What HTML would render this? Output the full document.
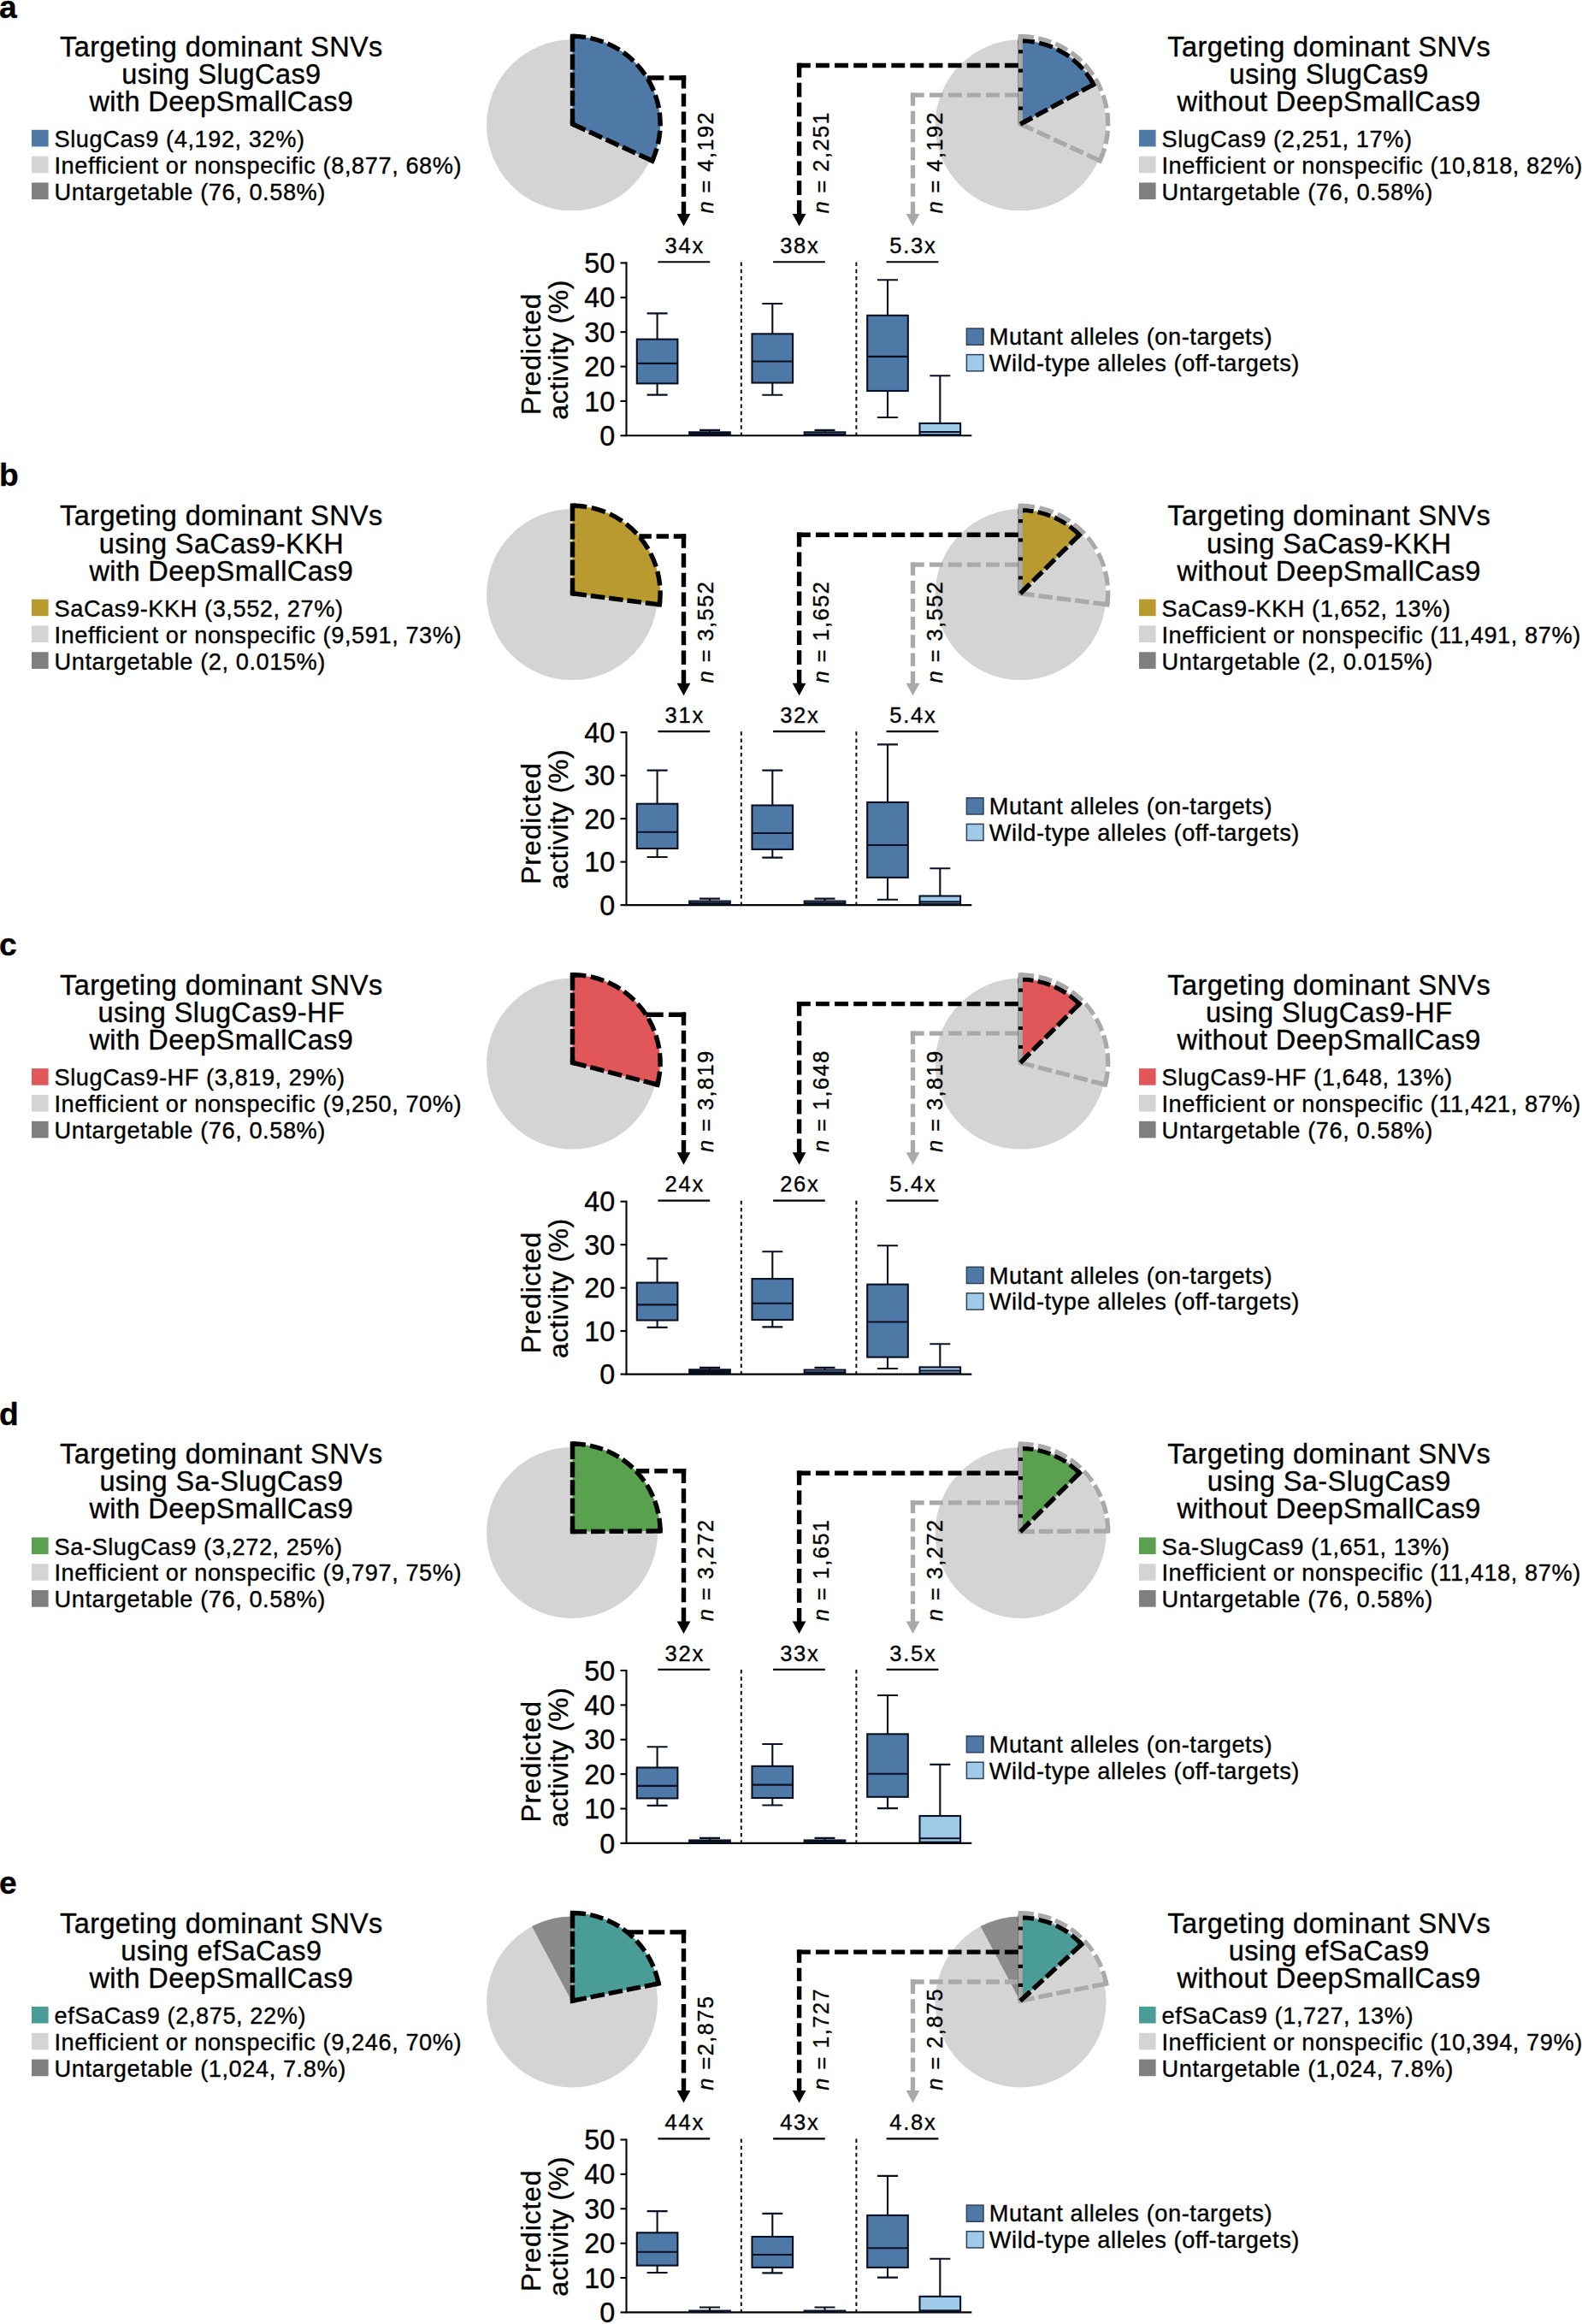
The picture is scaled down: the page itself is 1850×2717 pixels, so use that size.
<!DOCTYPE html>
<html lang="en">
<head>
<meta charset="utf-8">
<title>Targeting dominant SNVs with small Cas9 variants</title>
<style>
html,body{margin:0;padding:0;background:#fff;}
body{width:1850px;height:2717px;overflow:hidden;}
svg{display:block;font-family:"Liberation Sans", Arial, Helvetica, sans-serif;}
svg text{white-space:pre;stroke:#000;stroke-width:0.35px;stroke-linejoin:round;}
</style>
</head>
<body>
<svg width="1850" height="2717" viewBox="0 0 1850 2717" font-family='"Liberation Sans", Arial, Helvetica, sans-serif' shape-rendering="geometricPrecision">
<rect width="1850" height="2717" fill="#fff"/>
<g id="panel-a">
<text x="-1" y="21.2" font-size="37.2" font-weight="bold">a</text>
<text x="258.9" y="65.6" font-size="32.5" text-anchor="middle" letter-spacing="0.4">Targeting dominant SNVs</text>
<text x="258.9" y="97.7" font-size="32.5" text-anchor="middle" letter-spacing="0.4">using SlugCas9</text>
<text x="258.9" y="129.8" font-size="32.5" text-anchor="middle" letter-spacing="0.4">with DeepSmallCas9</text>
<text x="1554.2" y="65.6" font-size="32.5" text-anchor="middle" letter-spacing="0.4">Targeting dominant SNVs</text>
<text x="1554.2" y="97.7" font-size="32.5" text-anchor="middle" letter-spacing="0.4">using SlugCas9</text>
<text x="1554.2" y="129.8" font-size="32.5" text-anchor="middle" letter-spacing="0.4">without DeepSmallCas9</text>
<rect x="37" y="151.8" width="19.6" height="19.6" fill="#4e79a7"/>
<text x="63.5" y="172" font-size="27.2" letter-spacing="0.57">SlugCas9 (4,192, 32%)</text>
<rect x="37" y="182.65" width="19.6" height="19.6" fill="#d4d4d4"/>
<text x="63.5" y="202.85" font-size="27.2" letter-spacing="0.57">Inefficient or nonspecific (8,877, 68%)</text>
<rect x="37" y="213.5" width="19.6" height="19.6" fill="#7f7f7f"/>
<text x="63.5" y="233.7" font-size="27.2" letter-spacing="0.57">Untargetable (76, 0.58%)</text>
<rect x="1332" y="151.8" width="19.6" height="19.6" fill="#4e79a7"/>
<text x="1358.5" y="172" font-size="27.2" letter-spacing="0.57">SlugCas9 (2,251, 17%)</text>
<rect x="1332" y="182.65" width="19.6" height="19.6" fill="#d4d4d4"/>
<text x="1358.5" y="202.85" font-size="27.2" letter-spacing="0.57">Inefficient or nonspecific (10,818, 82%)</text>
<rect x="1332" y="213.5" width="19.6" height="19.6" fill="#7f7f7f"/>
<text x="1358.5" y="233.7" font-size="27.2" letter-spacing="0.57">Untargetable (76, 0.58%)</text>
<circle cx="669" cy="146.3" r="100" fill="#d4d4d4"/>
<path d="M669.5 145 L669.5 42.4 A102.6 102.6 0 0 1 762.64 188.04 Z" fill="#4e79a7"/>
<path d="M669.5 145 L669.5 42.4" fill="none" stroke="#000" stroke-width="5.4" stroke-dasharray="18.06 3.07"/>
<path d="M669.5 42.4 A102.6 102.6 0 0 1 762.64 188.04" fill="none" stroke="#000" stroke-width="5.4" stroke-dasharray="15.7 5.4"/>
<path d="M762.64 188.04 L669.5 145" fill="none" stroke="#000" stroke-width="5.4" stroke-dasharray="16.61 4.89"/>
<path d="M669.5 141 L669.5 145 L673.13 146.68" fill="none" stroke="#000" stroke-width="5.4" stroke-linejoin="miter" stroke-miterlimit="6"/>
<path d="M669.5 46.4 L669.5 42.4 L673.5 42.48" fill="none" stroke="#000" stroke-width="5.4" stroke-linejoin="miter" stroke-miterlimit="6"/>
<path d="M764.24 184.37 L762.64 188.04 L759.01 186.36" fill="none" stroke="#000" stroke-width="5.4" stroke-linejoin="miter" stroke-miterlimit="6"/>
<line x1="802.2" y1="91" x2="756.74" y2="91" stroke="#000" stroke-width="5.4" stroke-dasharray="19.63 6.2"/>
<line x1="799.5" y1="88.3" x2="799.5" y2="251" stroke="#000" stroke-width="5.4" stroke-dasharray="15.11 5.97"/>
<path d="M791.6 250 L807.4 250 L799.5 264.5 Z" fill="#000"/>
<circle cx="1193.6" cy="146.3" r="100" fill="#d4d4d4"/>
<line x1="1064.85" y1="111.2" x2="1190.8" y2="111.2" stroke="#a9a9a9" stroke-width="5.3" stroke-dasharray="15.83 6.2"/>
<line x1="1067.5" y1="108.55" x2="1067.5" y2="251" stroke="#a9a9a9" stroke-width="5.3" stroke-dasharray="15.2 6"/>
<path d="M1059.6 250 L1075.4 250 L1067.5 264.5 Z" fill="#a9a9a9"/>
<path d="M1193.3 145 L1193.3 47.6 A97.4 97.4 0 0 1 1278.98 98.67 Z" fill="#4e79a7"/>
<path d="M1193.3 145 L1193.3 47.6" fill="none" stroke="#000" stroke-width="5.4"/>
<path d="M1193.3 47.6 A97.4 97.4 0 0 1 1278.98 98.67" fill="none" stroke="#000" stroke-width="5.4" stroke-dasharray="16.43 5.65"/>
<path d="M1278.98 98.67 L1193.3 145" fill="none" stroke="#000" stroke-width="5.4" stroke-dasharray="15.77 4.64"/>
<path d="M1193.3 51.6 L1193.3 47.6 L1197.3 47.68" fill="none" stroke="#000" stroke-width="5.4" stroke-linejoin="miter" stroke-miterlimit="6"/>
<path d="M1277 95.2 L1278.98 98.67 L1275.46 100.58" fill="none" stroke="#000" stroke-width="5.4" stroke-linejoin="miter" stroke-miterlimit="6"/>
<path d="M1193.3 145 L1193.3 42.6" fill="none" stroke="#a9a9a9" stroke-width="5.3" stroke-dasharray="16.2 4.2 17.8 4.2 17.9 4.2 18 4.2 30"/>
<path d="M1193.3 42.6 A102.4 102.4 0 0 1 1286.26 187.95" fill="none" stroke="#a9a9a9" stroke-width="5.3" stroke-dasharray="15.67 5.39"/>
<path d="M1286.26 187.95 L1193.3 145" fill="none" stroke="#a9a9a9" stroke-width="5.3" stroke-dasharray="16.58 4.88"/>
<path d="M1193.3 141 L1193.3 145 L1196.93 146.68" fill="none" stroke="#a9a9a9" stroke-width="5.3" stroke-linejoin="miter" stroke-miterlimit="6"/>
<path d="M1193.3 46.6 L1193.3 42.6 L1197.3 42.68" fill="none" stroke="#a9a9a9" stroke-width="5.3" stroke-linejoin="miter" stroke-miterlimit="6"/>
<path d="M1287.86 184.29 L1286.26 187.95 L1282.63 186.27" fill="none" stroke="#a9a9a9" stroke-width="5.3" stroke-linejoin="miter" stroke-miterlimit="6"/>
<path d="M1193.04 145.14 L1206.49 137.87" fill="none" stroke="#000" stroke-width="5.4"/>
<line x1="931.9" y1="76.5" x2="1190.8" y2="76.5" stroke="#000" stroke-width="5.4" stroke-dasharray="15.89 6.2"/>
<line x1="934.6" y1="73.8" x2="934.6" y2="251" stroke="#000" stroke-width="5.4" stroke-dasharray="16.72 6.2"/>
<path d="M926.7 250 L942.5 250 L934.6 264.5 Z" fill="#000"/>
<text transform="translate(834.2 249.6) rotate(-90)" font-size="25.4" letter-spacing="1.46"><tspan font-style="italic">n</tspan> = 4,192</text>
<text transform="translate(969.2 249.6) rotate(-90)" font-size="25.4" letter-spacing="1.46"><tspan font-style="italic">n</tspan> = 2,251</text>
<text transform="translate(1102.2 249.6) rotate(-90)" font-size="25.4" letter-spacing="1.46"><tspan font-style="italic">n</tspan> = 4,192</text>
<path d="M732.5 306.35 V509.3 H1136.3" fill="none" stroke="#000" stroke-width="2.1"/>
<line x1="725.5" y1="509.3" x2="732.5" y2="509.3" stroke="#000" stroke-width="2.1"/>
<text x="719.3" y="520.9" font-size="32.3" text-anchor="end">0</text>
<line x1="725.5" y1="468.92" x2="732.5" y2="468.92" stroke="#000" stroke-width="2.1"/>
<text x="719.3" y="480.52" font-size="32.3" text-anchor="end">10</text>
<line x1="725.5" y1="428.54" x2="732.5" y2="428.54" stroke="#000" stroke-width="2.1"/>
<text x="719.3" y="440.14" font-size="32.3" text-anchor="end">20</text>
<line x1="725.5" y1="388.16" x2="732.5" y2="388.16" stroke="#000" stroke-width="2.1"/>
<text x="719.3" y="399.76" font-size="32.3" text-anchor="end">30</text>
<line x1="725.5" y1="347.78" x2="732.5" y2="347.78" stroke="#000" stroke-width="2.1"/>
<text x="719.3" y="359.38" font-size="32.3" text-anchor="end">40</text>
<line x1="725.5" y1="307.4" x2="732.5" y2="307.4" stroke="#000" stroke-width="2.1"/>
<text x="719.3" y="319" font-size="32.3" text-anchor="end">50</text>
<text transform="translate(631.5 413.8) rotate(-90)" font-size="32" text-anchor="middle" letter-spacing="0.8">Predicted</text>
<text transform="translate(664.4 408.8) rotate(-90)" font-size="32" text-anchor="middle" letter-spacing="0.6">activity (%)</text>
<line x1="866.8" y1="306.4" x2="866.8" y2="509.3" stroke="#000" stroke-width="1.9" stroke-dasharray="4.5 3.8"/>
<line x1="1001.4" y1="306.4" x2="1001.4" y2="509.3" stroke="#000" stroke-width="1.9" stroke-dasharray="4.5 3.8"/>
<text x="800.7" y="296" font-size="25.5" text-anchor="middle" letter-spacing="1.8">34x</text>
<line x1="769.4" y1="306.3" x2="830.2" y2="306.3" stroke="#000" stroke-width="2.1"/>
<text x="935.4" y="296" font-size="25.5" text-anchor="middle" letter-spacing="1.8">38x</text>
<line x1="904.1" y1="306.3" x2="964.9" y2="306.3" stroke="#000" stroke-width="2.1"/>
<text x="1067.9" y="296" font-size="25.5" text-anchor="middle" letter-spacing="1.8">5.3x</text>
<line x1="1036.6" y1="306.3" x2="1097.4" y2="306.3" stroke="#000" stroke-width="2.1"/>
<path d="M768.6 366.35 V396.64 M768.6 448.33 V461.65 M756.6 366.35 H780.6 M756.6 461.65 H780.6" fill="none" stroke="#0a1024" stroke-width="2.1"/>
<rect x="744.8" y="396.64" width="47.6" height="51.69" fill="#4e79a7" stroke="#0a1024" stroke-width="2.1"/>
<line x1="744.8" y1="424.91" x2="792.4" y2="424.91" stroke="#0a1024" stroke-width="2.1"/>
<path d="M830 502.92 V505.3 M818 502.92 H842" fill="none" stroke="#0a1024" stroke-width="2.1"/>
<rect x="806.2" y="505.3" width="47.6" height="3.19" fill="#0a1024" stroke="#0a1024" stroke-width="2.1"/>
<line x1="806.2" y1="507.48" x2="853.8" y2="507.48" stroke="#0a1024" stroke-width="2.1"/>
<path d="M903.3 355.05 V390.34 M903.3 447.52 V461.81 M891.3 355.05 H915.3 M891.3 461.81 H915.3" fill="none" stroke="#0a1024" stroke-width="2.1"/>
<rect x="879.5" y="390.34" width="47.6" height="57.18" fill="#4e79a7" stroke="#0a1024" stroke-width="2.1"/>
<line x1="879.5" y1="422.48" x2="927.1" y2="422.48" stroke="#0a1024" stroke-width="2.1"/>
<path d="M964.5 502.92 V505.3 M952.5 502.92 H976.5" fill="none" stroke="#0a1024" stroke-width="2.1"/>
<rect x="940.7" y="505.3" width="47.6" height="3.19" fill="#a0cbe8" stroke="#0a1024" stroke-width="2.1"/>
<line x1="940.7" y1="507.48" x2="988.3" y2="507.48" stroke="#0a1024" stroke-width="2.1"/>
<path d="M1038 327.19 V368.78 M1038 457.01 V488.02 M1026 327.19 H1050 M1026 488.02 H1050" fill="none" stroke="#0a1024" stroke-width="2.1"/>
<rect x="1014.2" y="368.78" width="47.6" height="88.23" fill="#4e79a7" stroke="#0a1024" stroke-width="2.1"/>
<line x1="1014.2" y1="416.83" x2="1061.8" y2="416.83" stroke="#0a1024" stroke-width="2.1"/>
<path d="M1099.3 439.24 V494.92 M1087.3 439.24 H1111.3" fill="none" stroke="#0a1024" stroke-width="2.1"/>
<rect x="1075.5" y="494.92" width="47.6" height="13.37" fill="#a0cbe8" stroke="#0a1024" stroke-width="2.1"/>
<line x1="1075.5" y1="505.02" x2="1123.1" y2="505.02" stroke="#0a1024" stroke-width="2.1"/>
<rect x="1130.4" y="384" width="19.6" height="19.2" fill="#4e79a7" stroke="#2f4058" stroke-width="1.5"/>
<text x="1156.8" y="403.2" font-size="27.2" letter-spacing="0.57">Mutant alleles (on-targets)</text>
<rect x="1130.4" y="414.6" width="19.6" height="19.2" fill="#a0cbe8" stroke="#2f4058" stroke-width="1.5"/>
<text x="1156.8" y="434" font-size="27.2" letter-spacing="0.57">Wild-type alleles (off-targets)</text>
</g>
<g id="panel-b">
<text x="-1" y="568" font-size="37.2" font-weight="bold">b</text>
<text x="258.9" y="614.4" font-size="32.5" text-anchor="middle" letter-spacing="0.4">Targeting dominant SNVs</text>
<text x="258.9" y="646.5" font-size="32.5" text-anchor="middle" letter-spacing="0.4">using SaCas9-KKH</text>
<text x="258.9" y="678.6" font-size="32.5" text-anchor="middle" letter-spacing="0.4">with DeepSmallCas9</text>
<text x="1554.2" y="614.4" font-size="32.5" text-anchor="middle" letter-spacing="0.4">Targeting dominant SNVs</text>
<text x="1554.2" y="646.5" font-size="32.5" text-anchor="middle" letter-spacing="0.4">using SaCas9-KKH</text>
<text x="1554.2" y="678.6" font-size="32.5" text-anchor="middle" letter-spacing="0.4">without DeepSmallCas9</text>
<rect x="37" y="700.6" width="19.6" height="19.6" fill="#b99a2e"/>
<text x="63.5" y="720.8" font-size="27.2" letter-spacing="0.57">SaCas9-KKH (3,552, 27%)</text>
<rect x="37" y="731.45" width="19.6" height="19.6" fill="#d4d4d4"/>
<text x="63.5" y="751.65" font-size="27.2" letter-spacing="0.57">Inefficient or nonspecific (9,591, 73%)</text>
<rect x="37" y="762.3" width="19.6" height="19.6" fill="#7f7f7f"/>
<text x="63.5" y="782.5" font-size="27.2" letter-spacing="0.57">Untargetable (2, 0.015%)</text>
<rect x="1332" y="700.6" width="19.6" height="19.6" fill="#b99a2e"/>
<text x="1358.5" y="720.8" font-size="27.2" letter-spacing="0.57">SaCas9-KKH (1,652, 13%)</text>
<rect x="1332" y="731.45" width="19.6" height="19.6" fill="#d4d4d4"/>
<text x="1358.5" y="751.65" font-size="27.2" letter-spacing="0.57">Inefficient or nonspecific (11,491, 87%)</text>
<rect x="1332" y="762.3" width="19.6" height="19.6" fill="#7f7f7f"/>
<text x="1358.5" y="782.5" font-size="27.2" letter-spacing="0.57">Untargetable (2, 0.015%)</text>
<circle cx="669" cy="695.1" r="100" fill="#d4d4d4"/>
<path d="M669.5 693.8 L669.5 591.2 A102.6 102.6 0 0 1 771.27 706.84 Z" fill="#b99a2e"/>
<path d="M669.5 693.8 L669.5 591.2" fill="none" stroke="#000" stroke-width="5.4" stroke-dasharray="18.06 3.07"/>
<path d="M669.5 591.2 A102.6 102.6 0 0 1 771.27 706.84" fill="none" stroke="#000" stroke-width="5.4" stroke-dasharray="16.74 5.76"/>
<path d="M771.27 706.84 L669.5 693.8" fill="none" stroke="#000" stroke-width="5.4" stroke-dasharray="16.61 4.89"/>
<path d="M669.5 689.8 L669.5 693.8 L673.47 694.31" fill="none" stroke="#000" stroke-width="5.4" stroke-linejoin="miter" stroke-miterlimit="6"/>
<path d="M669.5 595.2 L669.5 591.2 L673.5 591.28" fill="none" stroke="#000" stroke-width="5.4" stroke-linejoin="miter" stroke-miterlimit="6"/>
<path d="M771.7 702.86 L771.27 706.84 L767.3 706.33" fill="none" stroke="#000" stroke-width="5.4" stroke-linejoin="miter" stroke-miterlimit="6"/>
<line x1="802.2" y1="627" x2="747.38" y2="627" stroke="#000" stroke-width="5.4" stroke-dasharray="14.47 5.71"/>
<line x1="799.5" y1="624.3" x2="799.5" y2="799.8" stroke="#000" stroke-width="5.4" stroke-dasharray="16.51 6.2"/>
<path d="M791.6 798.8 L807.4 798.8 L799.5 813.3 Z" fill="#000"/>
<circle cx="1193.6" cy="695.1" r="100" fill="#d4d4d4"/>
<line x1="1064.85" y1="660.2" x2="1190.8" y2="660.2" stroke="#a9a9a9" stroke-width="5.3" stroke-dasharray="15.83 6.2"/>
<line x1="1067.5" y1="657.55" x2="1067.5" y2="799.8" stroke="#a9a9a9" stroke-width="5.3" stroke-dasharray="15.18 6"/>
<path d="M1059.6 798.8 L1075.4 798.8 L1067.5 813.3 Z" fill="#a9a9a9"/>
<path d="M1193.3 693.8 L1193.3 596.4 A97.4 97.4 0 0 1 1262.41 625.17 Z" fill="#b99a2e"/>
<path d="M1193.3 693.8 L1193.3 596.4" fill="none" stroke="#000" stroke-width="5.4"/>
<path d="M1193.3 596.4 A97.4 97.4 0 0 1 1262.41 625.17" fill="none" stroke="#000" stroke-width="5.4" stroke-dasharray="15.27 5.25"/>
<path d="M1262.41 625.17 L1193.3 693.8" fill="none" stroke="#000" stroke-width="5.4" stroke-dasharray="15.77 4.64"/>
<path d="M1193.3 600.4 L1193.3 596.4 L1197.3 596.48" fill="none" stroke="#000" stroke-width="5.4" stroke-linejoin="miter" stroke-miterlimit="6"/>
<path d="M1259.54 622.39 L1262.41 625.17 L1259.57 627.99" fill="none" stroke="#000" stroke-width="5.4" stroke-linejoin="miter" stroke-miterlimit="6"/>
<path d="M1193.3 693.8 L1193.3 591.4" fill="none" stroke="#a9a9a9" stroke-width="5.3" stroke-dasharray="16.2 4.2 17.8 4.2 17.9 4.2 18 4.2 30"/>
<path d="M1193.3 591.4 A102.4 102.4 0 0 1 1294.87 706.81" fill="none" stroke="#a9a9a9" stroke-width="5.3" stroke-dasharray="16.71 5.74"/>
<path d="M1294.87 706.81 L1193.3 693.8" fill="none" stroke="#a9a9a9" stroke-width="5.3" stroke-dasharray="16.58 4.88"/>
<path d="M1193.3 689.8 L1193.3 693.8 L1197.27 694.31" fill="none" stroke="#a9a9a9" stroke-width="5.3" stroke-linejoin="miter" stroke-miterlimit="6"/>
<path d="M1193.3 595.4 L1193.3 591.4 L1197.3 591.48" fill="none" stroke="#a9a9a9" stroke-width="5.3" stroke-linejoin="miter" stroke-miterlimit="6"/>
<path d="M1295.3 702.83 L1294.87 706.81 L1290.9 706.3" fill="none" stroke="#a9a9a9" stroke-width="5.3" stroke-linejoin="miter" stroke-miterlimit="6"/>
<path d="M1193.09 694.01 L1203.94 683.23" fill="none" stroke="#000" stroke-width="5.4"/>
<line x1="931.9" y1="625.3" x2="1190.8" y2="625.3" stroke="#000" stroke-width="5.4" stroke-dasharray="15.89 6.2"/>
<line x1="934.6" y1="622.6" x2="934.6" y2="799.8" stroke="#000" stroke-width="5.4" stroke-dasharray="16.73 6.2"/>
<path d="M926.7 798.8 L942.5 798.8 L934.6 813.3 Z" fill="#000"/>
<text transform="translate(834.2 798.4) rotate(-90)" font-size="25.4" letter-spacing="1.46"><tspan font-style="italic">n</tspan> = 3,552</text>
<text transform="translate(969.2 798.4) rotate(-90)" font-size="25.4" letter-spacing="1.46"><tspan font-style="italic">n</tspan> = 1,652</text>
<text transform="translate(1102.2 798.4) rotate(-90)" font-size="25.4" letter-spacing="1.46"><tspan font-style="italic">n</tspan> = 3,552</text>
<path d="M732.5 855.15 V1058.1 H1136.3" fill="none" stroke="#000" stroke-width="2.1"/>
<line x1="725.5" y1="1058.1" x2="732.5" y2="1058.1" stroke="#000" stroke-width="2.1"/>
<text x="719.3" y="1069.7" font-size="32.3" text-anchor="end">0</text>
<line x1="725.5" y1="1007.62" x2="732.5" y2="1007.62" stroke="#000" stroke-width="2.1"/>
<text x="719.3" y="1019.22" font-size="32.3" text-anchor="end">10</text>
<line x1="725.5" y1="957.15" x2="732.5" y2="957.15" stroke="#000" stroke-width="2.1"/>
<text x="719.3" y="968.75" font-size="32.3" text-anchor="end">20</text>
<line x1="725.5" y1="906.67" x2="732.5" y2="906.67" stroke="#000" stroke-width="2.1"/>
<text x="719.3" y="918.27" font-size="32.3" text-anchor="end">30</text>
<line x1="725.5" y1="856.2" x2="732.5" y2="856.2" stroke="#000" stroke-width="2.1"/>
<text x="719.3" y="867.8" font-size="32.3" text-anchor="end">40</text>
<text transform="translate(631.5 962.6) rotate(-90)" font-size="32" text-anchor="middle" letter-spacing="0.8">Predicted</text>
<text transform="translate(664.4 957.6) rotate(-90)" font-size="32" text-anchor="middle" letter-spacing="0.6">activity (%)</text>
<line x1="866.8" y1="855.2" x2="866.8" y2="1058.1" stroke="#000" stroke-width="1.9" stroke-dasharray="4.5 3.8"/>
<line x1="1001.4" y1="855.2" x2="1001.4" y2="1058.1" stroke="#000" stroke-width="1.9" stroke-dasharray="4.5 3.8"/>
<text x="800.7" y="844.8" font-size="25.5" text-anchor="middle" letter-spacing="1.8">31x</text>
<line x1="769.4" y1="855.1" x2="830.2" y2="855.1" stroke="#000" stroke-width="2.1"/>
<text x="935.4" y="844.8" font-size="25.5" text-anchor="middle" letter-spacing="1.8">32x</text>
<line x1="904.1" y1="855.1" x2="964.9" y2="855.1" stroke="#000" stroke-width="2.1"/>
<text x="1067.9" y="844.8" font-size="25.5" text-anchor="middle" letter-spacing="1.8">5.4x</text>
<line x1="1036.6" y1="855.1" x2="1097.4" y2="855.1" stroke="#000" stroke-width="2.1"/>
<path d="M768.6 900.62 V939.74 M768.6 991.98 V1002.07 M756.6 900.62 H780.6 M756.6 1002.07 H780.6" fill="none" stroke="#0a1024" stroke-width="2.1"/>
<rect x="744.8" y="939.74" width="47.6" height="52.24" fill="#4e79a7" stroke="#0a1024" stroke-width="2.1"/>
<line x1="744.8" y1="972.8" x2="792.4" y2="972.8" stroke="#0a1024" stroke-width="2.1"/>
<path d="M830 1050.58 V1053.56 M818 1050.58 H842" fill="none" stroke="#0a1024" stroke-width="2.1"/>
<rect x="806.2" y="1053.56" width="47.6" height="3.53" fill="#a0cbe8" stroke="#0a1024" stroke-width="2.1"/>
<line x1="806.2" y1="1055.83" x2="853.8" y2="1055.83" stroke="#0a1024" stroke-width="2.1"/>
<path d="M903.3 900.62 V941.5 M903.3 992.99 V1002.58 M891.3 900.62 H915.3 M891.3 1002.58 H915.3" fill="none" stroke="#0a1024" stroke-width="2.1"/>
<rect x="879.5" y="941.5" width="47.6" height="51.48" fill="#4e79a7" stroke="#0a1024" stroke-width="2.1"/>
<line x1="879.5" y1="974.06" x2="927.1" y2="974.06" stroke="#0a1024" stroke-width="2.1"/>
<path d="M964.5 1050.58 V1053.56 M952.5 1050.58 H976.5" fill="none" stroke="#0a1024" stroke-width="2.1"/>
<rect x="940.7" y="1053.56" width="47.6" height="3.53" fill="#a0cbe8" stroke="#0a1024" stroke-width="2.1"/>
<line x1="940.7" y1="1055.83" x2="988.3" y2="1055.83" stroke="#0a1024" stroke-width="2.1"/>
<path d="M1038 870.33 V937.97 M1038 1025.9 V1051.69 M1026 870.33 H1050 M1026 1051.69 H1050" fill="none" stroke="#0a1024" stroke-width="2.1"/>
<rect x="1014.2" y="937.97" width="47.6" height="87.93" fill="#4e79a7" stroke="#0a1024" stroke-width="2.1"/>
<line x1="1014.2" y1="987.94" x2="1061.8" y2="987.94" stroke="#0a1024" stroke-width="2.1"/>
<path d="M1099.3 1015.2 V1047.5 M1087.3 1015.2 H1111.3" fill="none" stroke="#0a1024" stroke-width="2.1"/>
<rect x="1075.5" y="1047.5" width="47.6" height="9.59" fill="#a0cbe8" stroke="#0a1024" stroke-width="2.1"/>
<line x1="1075.5" y1="1054.36" x2="1123.1" y2="1054.36" stroke="#0a1024" stroke-width="2.1"/>
<rect x="1130.4" y="932.8" width="19.6" height="19.2" fill="#4e79a7" stroke="#2f4058" stroke-width="1.5"/>
<text x="1156.8" y="952" font-size="27.2" letter-spacing="0.57">Mutant alleles (on-targets)</text>
<rect x="1130.4" y="963.4" width="19.6" height="19.2" fill="#a0cbe8" stroke="#2f4058" stroke-width="1.5"/>
<text x="1156.8" y="982.8" font-size="27.2" letter-spacing="0.57">Wild-type alleles (off-targets)</text>
</g>
<g id="panel-c">
<text x="-1" y="1117.3" font-size="37.2" font-weight="bold">c</text>
<text x="258.9" y="1162.9" font-size="32.5" text-anchor="middle" letter-spacing="0.4">Targeting dominant SNVs</text>
<text x="258.9" y="1195" font-size="32.5" text-anchor="middle" letter-spacing="0.4">using SlugCas9-HF</text>
<text x="258.9" y="1227.1" font-size="32.5" text-anchor="middle" letter-spacing="0.4">with DeepSmallCas9</text>
<text x="1554.2" y="1162.9" font-size="32.5" text-anchor="middle" letter-spacing="0.4">Targeting dominant SNVs</text>
<text x="1554.2" y="1195" font-size="32.5" text-anchor="middle" letter-spacing="0.4">using SlugCas9-HF</text>
<text x="1554.2" y="1227.1" font-size="32.5" text-anchor="middle" letter-spacing="0.4">without DeepSmallCas9</text>
<rect x="37" y="1249.1" width="19.6" height="19.6" fill="#e15759"/>
<text x="63.5" y="1269.3" font-size="27.2" letter-spacing="0.57">SlugCas9-HF (3,819, 29%)</text>
<rect x="37" y="1279.95" width="19.6" height="19.6" fill="#d4d4d4"/>
<text x="63.5" y="1300.15" font-size="27.2" letter-spacing="0.57">Inefficient or nonspecific (9,250, 70%)</text>
<rect x="37" y="1310.8" width="19.6" height="19.6" fill="#7f7f7f"/>
<text x="63.5" y="1331" font-size="27.2" letter-spacing="0.57">Untargetable (76, 0.58%)</text>
<rect x="1332" y="1249.1" width="19.6" height="19.6" fill="#e15759"/>
<text x="1358.5" y="1269.3" font-size="27.2" letter-spacing="0.57">SlugCas9-HF (1,648, 13%)</text>
<rect x="1332" y="1279.95" width="19.6" height="19.6" fill="#d4d4d4"/>
<text x="1358.5" y="1300.15" font-size="27.2" letter-spacing="0.57">Inefficient or nonspecific (11,421, 87%)</text>
<rect x="1332" y="1310.8" width="19.6" height="19.6" fill="#7f7f7f"/>
<text x="1358.5" y="1331" font-size="27.2" letter-spacing="0.57">Untargetable (76, 0.58%)</text>
<circle cx="669" cy="1243.6" r="100" fill="#d4d4d4"/>
<path d="M669.5 1242.3 L669.5 1139.7 A102.6 102.6 0 0 1 768.79 1268.16 Z" fill="#e15759"/>
<path d="M669.5 1242.3 L669.5 1139.7" fill="none" stroke="#000" stroke-width="5.4" stroke-dasharray="18.06 3.07"/>
<path d="M669.5 1139.7 A102.6 102.6 0 0 1 768.79 1268.16" fill="none" stroke="#000" stroke-width="5.4" stroke-dasharray="15.94 5.48"/>
<path d="M768.79 1268.16 L669.5 1242.3" fill="none" stroke="#000" stroke-width="5.4" stroke-dasharray="16.61 4.89"/>
<path d="M669.5 1238.3 L669.5 1242.3 L673.37 1243.31" fill="none" stroke="#000" stroke-width="5.4" stroke-linejoin="miter" stroke-miterlimit="6"/>
<path d="M669.5 1143.7 L669.5 1139.7 L673.5 1139.78" fill="none" stroke="#000" stroke-width="5.4" stroke-linejoin="miter" stroke-miterlimit="6"/>
<path d="M769.72 1264.27 L768.79 1268.16 L764.92 1267.15" fill="none" stroke="#000" stroke-width="5.4" stroke-linejoin="miter" stroke-miterlimit="6"/>
<line x1="802.2" y1="1186.2" x2="755.4" y2="1186.2" stroke="#000" stroke-width="5.4" stroke-dasharray="20.3 6.2"/>
<line x1="799.5" y1="1183.5" x2="799.5" y2="1348.3" stroke="#000" stroke-width="5.4" stroke-dasharray="15.31 6.05"/>
<path d="M791.6 1347.3 L807.4 1347.3 L799.5 1361.8 Z" fill="#000"/>
<circle cx="1193.6" cy="1243.6" r="100" fill="#d4d4d4"/>
<line x1="1064.85" y1="1208.2" x2="1190.8" y2="1208.2" stroke="#a9a9a9" stroke-width="5.3" stroke-dasharray="15.83 6.2"/>
<line x1="1067.5" y1="1205.55" x2="1067.5" y2="1348.3" stroke="#a9a9a9" stroke-width="5.3" stroke-dasharray="15.24 6.02"/>
<path d="M1059.6 1347.3 L1075.4 1347.3 L1067.5 1361.8 Z" fill="#a9a9a9"/>
<path d="M1193.3 1242.3 L1193.3 1144.9 A97.4 97.4 0 0 1 1262.29 1173.55 Z" fill="#e15759"/>
<path d="M1193.3 1242.3 L1193.3 1144.9" fill="none" stroke="#000" stroke-width="5.4"/>
<path d="M1193.3 1144.9 A97.4 97.4 0 0 1 1262.29 1173.55" fill="none" stroke="#000" stroke-width="5.4" stroke-dasharray="15.24 5.24"/>
<path d="M1262.29 1173.55 L1193.3 1242.3" fill="none" stroke="#000" stroke-width="5.4" stroke-dasharray="15.77 4.64"/>
<path d="M1193.3 1148.9 L1193.3 1144.9 L1197.3 1144.98" fill="none" stroke="#000" stroke-width="5.4" stroke-linejoin="miter" stroke-miterlimit="6"/>
<path d="M1259.41 1170.77 L1262.29 1173.55 L1259.46 1176.37" fill="none" stroke="#000" stroke-width="5.4" stroke-linejoin="miter" stroke-miterlimit="6"/>
<path d="M1193.3 1242.3 L1193.3 1139.9" fill="none" stroke="#a9a9a9" stroke-width="5.3" stroke-dasharray="16.2 4.2 17.8 4.2 17.9 4.2 18 4.2 30"/>
<path d="M1193.3 1139.9 A102.4 102.4 0 0 1 1292.39 1268.11" fill="none" stroke="#a9a9a9" stroke-width="5.3" stroke-dasharray="15.91 5.47"/>
<path d="M1292.39 1268.11 L1193.3 1242.3" fill="none" stroke="#a9a9a9" stroke-width="5.3" stroke-dasharray="16.58 4.88"/>
<path d="M1193.3 1238.3 L1193.3 1242.3 L1197.17 1243.31" fill="none" stroke="#a9a9a9" stroke-width="5.3" stroke-linejoin="miter" stroke-miterlimit="6"/>
<path d="M1193.3 1143.9 L1193.3 1139.9 L1197.3 1139.98" fill="none" stroke="#a9a9a9" stroke-width="5.3" stroke-linejoin="miter" stroke-miterlimit="6"/>
<path d="M1293.33 1264.22 L1292.39 1268.11 L1288.52 1267.1" fill="none" stroke="#a9a9a9" stroke-width="5.3" stroke-linejoin="miter" stroke-miterlimit="6"/>
<path d="M1193.09 1242.51 L1203.93 1231.71" fill="none" stroke="#000" stroke-width="5.4"/>
<line x1="931.9" y1="1173.6" x2="1190.8" y2="1173.6" stroke="#000" stroke-width="5.4" stroke-dasharray="15.89 6.2"/>
<line x1="934.6" y1="1170.9" x2="934.6" y2="1348.3" stroke="#000" stroke-width="5.4" stroke-dasharray="16.75 6.2"/>
<path d="M926.7 1347.3 L942.5 1347.3 L934.6 1361.8 Z" fill="#000"/>
<text transform="translate(834.2 1346.9) rotate(-90)" font-size="25.4" letter-spacing="1.46"><tspan font-style="italic">n</tspan> = 3,819</text>
<text transform="translate(969.2 1346.9) rotate(-90)" font-size="25.4" letter-spacing="1.46"><tspan font-style="italic">n</tspan> = 1,648</text>
<text transform="translate(1102.2 1346.9) rotate(-90)" font-size="25.4" letter-spacing="1.46"><tspan font-style="italic">n</tspan> = 3,819</text>
<path d="M732.5 1403.65 V1606.6 H1136.3" fill="none" stroke="#000" stroke-width="2.1"/>
<line x1="725.5" y1="1606.6" x2="732.5" y2="1606.6" stroke="#000" stroke-width="2.1"/>
<text x="719.3" y="1618.2" font-size="32.3" text-anchor="end">0</text>
<line x1="725.5" y1="1556.12" x2="732.5" y2="1556.12" stroke="#000" stroke-width="2.1"/>
<text x="719.3" y="1567.72" font-size="32.3" text-anchor="end">10</text>
<line x1="725.5" y1="1505.65" x2="732.5" y2="1505.65" stroke="#000" stroke-width="2.1"/>
<text x="719.3" y="1517.25" font-size="32.3" text-anchor="end">20</text>
<line x1="725.5" y1="1455.17" x2="732.5" y2="1455.17" stroke="#000" stroke-width="2.1"/>
<text x="719.3" y="1466.77" font-size="32.3" text-anchor="end">30</text>
<line x1="725.5" y1="1404.7" x2="732.5" y2="1404.7" stroke="#000" stroke-width="2.1"/>
<text x="719.3" y="1416.3" font-size="32.3" text-anchor="end">40</text>
<text transform="translate(631.5 1511.1) rotate(-90)" font-size="32" text-anchor="middle" letter-spacing="0.8">Predicted</text>
<text transform="translate(664.4 1506.1) rotate(-90)" font-size="32" text-anchor="middle" letter-spacing="0.6">activity (%)</text>
<line x1="866.8" y1="1403.7" x2="866.8" y2="1606.6" stroke="#000" stroke-width="1.9" stroke-dasharray="4.5 3.8"/>
<line x1="1001.4" y1="1403.7" x2="1001.4" y2="1606.6" stroke="#000" stroke-width="1.9" stroke-dasharray="4.5 3.8"/>
<text x="800.7" y="1393.3" font-size="25.5" text-anchor="middle" letter-spacing="1.8">24x</text>
<line x1="769.4" y1="1403.6" x2="830.2" y2="1403.6" stroke="#000" stroke-width="2.1"/>
<text x="935.4" y="1393.3" font-size="25.5" text-anchor="middle" letter-spacing="1.8">26x</text>
<line x1="904.1" y1="1403.6" x2="964.9" y2="1403.6" stroke="#000" stroke-width="2.1"/>
<text x="1067.9" y="1393.3" font-size="25.5" text-anchor="middle" letter-spacing="1.8">5.4x</text>
<line x1="1036.6" y1="1403.6" x2="1097.4" y2="1403.6" stroke="#000" stroke-width="2.1"/>
<path d="M768.6 1471.33 V1499.59 M768.6 1543.51 V1551.83 M756.6 1471.33 H780.6 M756.6 1551.83 H780.6" fill="none" stroke="#0a1024" stroke-width="2.1"/>
<rect x="744.8" y="1499.59" width="47.6" height="43.91" fill="#4e79a7" stroke="#0a1024" stroke-width="2.1"/>
<line x1="744.8" y1="1525.34" x2="792.4" y2="1525.34" stroke="#0a1024" stroke-width="2.1"/>
<path d="M830 1598.83 V1601.25 M818 1598.83 H842" fill="none" stroke="#0a1024" stroke-width="2.1"/>
<rect x="806.2" y="1601.25" width="47.6" height="4.34" fill="#0a1024" stroke="#0a1024" stroke-width="2.1"/>
<line x1="806.2" y1="1604.33" x2="853.8" y2="1604.33" stroke="#0a1024" stroke-width="2.1"/>
<path d="M903.3 1463.25 V1495.05 M903.3 1543 V1551.33 M891.3 1463.25 H915.3 M891.3 1551.33 H915.3" fill="none" stroke="#0a1024" stroke-width="2.1"/>
<rect x="879.5" y="1495.05" width="47.6" height="47.95" fill="#4e79a7" stroke="#0a1024" stroke-width="2.1"/>
<line x1="879.5" y1="1523.82" x2="927.1" y2="1523.82" stroke="#0a1024" stroke-width="2.1"/>
<path d="M964.5 1598.83 V1601.55 M952.5 1598.83 H976.5" fill="none" stroke="#0a1024" stroke-width="2.1"/>
<rect x="940.7" y="1601.55" width="47.6" height="4.04" fill="#a0cbe8" stroke="#0a1024" stroke-width="2.1"/>
<line x1="940.7" y1="1604.33" x2="988.3" y2="1604.33" stroke="#0a1024" stroke-width="2.1"/>
<path d="M1038 1456.18 V1501.61 M1038 1586.66 V1600.04 M1026 1456.18 H1050 M1026 1600.04 H1050" fill="none" stroke="#0a1024" stroke-width="2.1"/>
<rect x="1014.2" y="1501.61" width="47.6" height="85.05" fill="#4e79a7" stroke="#0a1024" stroke-width="2.1"/>
<line x1="1014.2" y1="1545.53" x2="1061.8" y2="1545.53" stroke="#0a1024" stroke-width="2.1"/>
<path d="M1099.3 1571.27 V1598.37 M1087.3 1571.27 H1111.3" fill="none" stroke="#0a1024" stroke-width="2.1"/>
<rect x="1075.5" y="1598.37" width="47.6" height="7.22" fill="#a0cbe8" stroke="#0a1024" stroke-width="2.1"/>
<line x1="1075.5" y1="1602.56" x2="1123.1" y2="1602.56" stroke="#0a1024" stroke-width="2.1"/>
<rect x="1130.4" y="1481.3" width="19.6" height="19.2" fill="#4e79a7" stroke="#2f4058" stroke-width="1.5"/>
<text x="1156.8" y="1500.5" font-size="27.2" letter-spacing="0.57">Mutant alleles (on-targets)</text>
<rect x="1130.4" y="1511.9" width="19.6" height="19.2" fill="#a0cbe8" stroke="#2f4058" stroke-width="1.5"/>
<text x="1156.8" y="1531.3" font-size="27.2" letter-spacing="0.57">Wild-type alleles (off-targets)</text>
</g>
<g id="panel-d">
<text x="-1" y="1665.5" font-size="37.2" font-weight="bold">d</text>
<text x="258.9" y="1711.2" font-size="32.5" text-anchor="middle" letter-spacing="0.4">Targeting dominant SNVs</text>
<text x="258.9" y="1743.3" font-size="32.5" text-anchor="middle" letter-spacing="0.4">using Sa-SlugCas9</text>
<text x="258.9" y="1775.4" font-size="32.5" text-anchor="middle" letter-spacing="0.4">with DeepSmallCas9</text>
<text x="1554.2" y="1711.2" font-size="32.5" text-anchor="middle" letter-spacing="0.4">Targeting dominant SNVs</text>
<text x="1554.2" y="1743.3" font-size="32.5" text-anchor="middle" letter-spacing="0.4">using Sa-SlugCas9</text>
<text x="1554.2" y="1775.4" font-size="32.5" text-anchor="middle" letter-spacing="0.4">without DeepSmallCas9</text>
<rect x="37" y="1797.4" width="19.6" height="19.6" fill="#59a14f"/>
<text x="63.5" y="1817.6" font-size="27.2" letter-spacing="0.57">Sa-SlugCas9 (3,272, 25%)</text>
<rect x="37" y="1828.25" width="19.6" height="19.6" fill="#d4d4d4"/>
<text x="63.5" y="1848.45" font-size="27.2" letter-spacing="0.57">Inefficient or nonspecific (9,797, 75%)</text>
<rect x="37" y="1859.1" width="19.6" height="19.6" fill="#7f7f7f"/>
<text x="63.5" y="1879.3" font-size="27.2" letter-spacing="0.57">Untargetable (76, 0.58%)</text>
<rect x="1332" y="1797.4" width="19.6" height="19.6" fill="#59a14f"/>
<text x="1358.5" y="1817.6" font-size="27.2" letter-spacing="0.57">Sa-SlugCas9 (1,651, 13%)</text>
<rect x="1332" y="1828.25" width="19.6" height="19.6" fill="#d4d4d4"/>
<text x="1358.5" y="1848.45" font-size="27.2" letter-spacing="0.57">Inefficient or nonspecific (11,418, 87%)</text>
<rect x="1332" y="1859.1" width="19.6" height="19.6" fill="#7f7f7f"/>
<text x="1358.5" y="1879.3" font-size="27.2" letter-spacing="0.57">Untargetable (76, 0.58%)</text>
<circle cx="669" cy="1791.9" r="100" fill="#d4d4d4"/>
<path d="M669.5 1790.6 L669.5 1688 A102.6 102.6 0 0 1 772.1 1789.88 Z" fill="#59a14f"/>
<path d="M669.5 1790.6 L669.5 1688" fill="none" stroke="#000" stroke-width="5.4" stroke-dasharray="18.06 3.07"/>
<path d="M669.5 1688 A102.6 102.6 0 0 1 772.1 1789.88" fill="none" stroke="#000" stroke-width="5.4" stroke-dasharray="15.42 5.3"/>
<path d="M772.1 1789.88 L669.5 1790.6" fill="none" stroke="#000" stroke-width="5.4" stroke-dasharray="16.61 4.89"/>
<path d="M669.5 1786.6 L669.5 1790.6 L673.5 1790.57" fill="none" stroke="#000" stroke-width="5.4" stroke-linejoin="miter" stroke-miterlimit="6"/>
<path d="M669.5 1692 L669.5 1688 L673.5 1688.08" fill="none" stroke="#000" stroke-width="5.4" stroke-linejoin="miter" stroke-miterlimit="6"/>
<path d="M771.99 1785.89 L772.1 1789.88 L768.1 1789.91" fill="none" stroke="#000" stroke-width="5.4" stroke-linejoin="miter" stroke-miterlimit="6"/>
<line x1="802.2" y1="1719.8" x2="743.76" y2="1719.8" stroke="#000" stroke-width="5.4" stroke-dasharray="15.42 6.09"/>
<line x1="799.5" y1="1717.1" x2="799.5" y2="1896.6" stroke="#000" stroke-width="5.4" stroke-dasharray="17.01 6.2"/>
<path d="M791.6 1895.6 L807.4 1895.6 L799.5 1910.1 Z" fill="#000"/>
<circle cx="1193.6" cy="1791.9" r="100" fill="#d4d4d4"/>
<line x1="1064.85" y1="1756.8" x2="1190.8" y2="1756.8" stroke="#a9a9a9" stroke-width="5.3" stroke-dasharray="15.83 6.2"/>
<line x1="1067.5" y1="1754.15" x2="1067.5" y2="1896.6" stroke="#a9a9a9" stroke-width="5.3" stroke-dasharray="15.2 6"/>
<path d="M1059.6 1895.6 L1075.4 1895.6 L1067.5 1910.1 Z" fill="#a9a9a9"/>
<path d="M1193.3 1790.6 L1193.3 1693.2 A97.4 97.4 0 0 1 1262.41 1721.97 Z" fill="#59a14f"/>
<path d="M1193.3 1790.6 L1193.3 1693.2" fill="none" stroke="#000" stroke-width="5.4"/>
<path d="M1193.3 1693.2 A97.4 97.4 0 0 1 1262.41 1721.97" fill="none" stroke="#000" stroke-width="5.4" stroke-dasharray="15.27 5.25"/>
<path d="M1262.41 1721.97 L1193.3 1790.6" fill="none" stroke="#000" stroke-width="5.4" stroke-dasharray="15.77 4.64"/>
<path d="M1193.3 1697.2 L1193.3 1693.2 L1197.3 1693.28" fill="none" stroke="#000" stroke-width="5.4" stroke-linejoin="miter" stroke-miterlimit="6"/>
<path d="M1259.54 1719.19 L1262.41 1721.97 L1259.57 1724.79" fill="none" stroke="#000" stroke-width="5.4" stroke-linejoin="miter" stroke-miterlimit="6"/>
<path d="M1193.3 1790.6 L1193.3 1688.2" fill="none" stroke="#a9a9a9" stroke-width="5.3" stroke-dasharray="16.2 4.2 17.8 4.2 17.9 4.2 18 4.2 30"/>
<path d="M1193.3 1688.2 A102.4 102.4 0 0 1 1295.7 1789.89" fill="none" stroke="#a9a9a9" stroke-width="5.3" stroke-dasharray="15.39 5.29"/>
<path d="M1295.7 1789.89 L1193.3 1790.6" fill="none" stroke="#a9a9a9" stroke-width="5.3" stroke-dasharray="16.58 4.88"/>
<path d="M1193.3 1786.6 L1193.3 1790.6 L1197.3 1790.57" fill="none" stroke="#a9a9a9" stroke-width="5.3" stroke-linejoin="miter" stroke-miterlimit="6"/>
<path d="M1193.3 1692.2 L1193.3 1688.2 L1197.3 1688.28" fill="none" stroke="#a9a9a9" stroke-width="5.3" stroke-linejoin="miter" stroke-miterlimit="6"/>
<path d="M1295.59 1785.89 L1295.7 1789.89 L1291.7 1789.91" fill="none" stroke="#a9a9a9" stroke-width="5.3" stroke-linejoin="miter" stroke-miterlimit="6"/>
<path d="M1193.09 1790.81 L1203.94 1780.03" fill="none" stroke="#000" stroke-width="5.4"/>
<line x1="931.9" y1="1722.3" x2="1190.8" y2="1722.3" stroke="#000" stroke-width="5.4" stroke-dasharray="15.89 6.2"/>
<line x1="934.6" y1="1719.6" x2="934.6" y2="1896.6" stroke="#000" stroke-width="5.4" stroke-dasharray="16.7 6.2"/>
<path d="M926.7 1895.6 L942.5 1895.6 L934.6 1910.1 Z" fill="#000"/>
<text transform="translate(834.2 1895.2) rotate(-90)" font-size="25.4" letter-spacing="1.46"><tspan font-style="italic">n</tspan> = 3,272</text>
<text transform="translate(969.2 1895.2) rotate(-90)" font-size="25.4" letter-spacing="1.46"><tspan font-style="italic">n</tspan> = 1,651</text>
<text transform="translate(1102.2 1895.2) rotate(-90)" font-size="25.4" letter-spacing="1.46"><tspan font-style="italic">n</tspan> = 3,272</text>
<path d="M732.5 1951.95 V2154.9 H1136.3" fill="none" stroke="#000" stroke-width="2.1"/>
<line x1="725.5" y1="2154.9" x2="732.5" y2="2154.9" stroke="#000" stroke-width="2.1"/>
<text x="719.3" y="2166.5" font-size="32.3" text-anchor="end">0</text>
<line x1="725.5" y1="2114.52" x2="732.5" y2="2114.52" stroke="#000" stroke-width="2.1"/>
<text x="719.3" y="2126.12" font-size="32.3" text-anchor="end">10</text>
<line x1="725.5" y1="2074.14" x2="732.5" y2="2074.14" stroke="#000" stroke-width="2.1"/>
<text x="719.3" y="2085.74" font-size="32.3" text-anchor="end">20</text>
<line x1="725.5" y1="2033.76" x2="732.5" y2="2033.76" stroke="#000" stroke-width="2.1"/>
<text x="719.3" y="2045.36" font-size="32.3" text-anchor="end">30</text>
<line x1="725.5" y1="1993.38" x2="732.5" y2="1993.38" stroke="#000" stroke-width="2.1"/>
<text x="719.3" y="2004.98" font-size="32.3" text-anchor="end">40</text>
<line x1="725.5" y1="1953" x2="732.5" y2="1953" stroke="#000" stroke-width="2.1"/>
<text x="719.3" y="1964.6" font-size="32.3" text-anchor="end">50</text>
<text transform="translate(631.5 2059.4) rotate(-90)" font-size="32" text-anchor="middle" letter-spacing="0.8">Predicted</text>
<text transform="translate(664.4 2054.4) rotate(-90)" font-size="32" text-anchor="middle" letter-spacing="0.6">activity (%)</text>
<line x1="866.8" y1="1952" x2="866.8" y2="2154.9" stroke="#000" stroke-width="1.9" stroke-dasharray="4.5 3.8"/>
<line x1="1001.4" y1="1952" x2="1001.4" y2="2154.9" stroke="#000" stroke-width="1.9" stroke-dasharray="4.5 3.8"/>
<text x="800.7" y="1941.6" font-size="25.5" text-anchor="middle" letter-spacing="1.8">32x</text>
<line x1="769.4" y1="1951.9" x2="830.2" y2="1951.9" stroke="#000" stroke-width="2.1"/>
<text x="935.4" y="1941.6" font-size="25.5" text-anchor="middle" letter-spacing="1.8">33x</text>
<line x1="904.1" y1="1951.9" x2="964.9" y2="1951.9" stroke="#000" stroke-width="2.1"/>
<text x="1067.9" y="1941.6" font-size="25.5" text-anchor="middle" letter-spacing="1.8">3.5x</text>
<line x1="1036.6" y1="1951.9" x2="1097.4" y2="1951.9" stroke="#000" stroke-width="2.1"/>
<path d="M768.6 2042.24 V2066.47 M768.6 2102.41 V2110.89 M756.6 2042.24 H780.6 M756.6 2110.89 H780.6" fill="none" stroke="#0a1024" stroke-width="2.1"/>
<rect x="744.8" y="2066.47" width="47.6" height="35.94" fill="#4e79a7" stroke="#0a1024" stroke-width="2.1"/>
<line x1="744.8" y1="2087.87" x2="792.4" y2="2087.87" stroke="#0a1024" stroke-width="2.1"/>
<path d="M830 2148.84 V2151.47 M818 2148.84 H842" fill="none" stroke="#0a1024" stroke-width="2.1"/>
<rect x="806.2" y="2151.47" width="47.6" height="2.62" fill="#a0cbe8" stroke="#0a1024" stroke-width="2.1"/>
<line x1="806.2" y1="2153.08" x2="853.8" y2="2153.08" stroke="#0a1024" stroke-width="2.1"/>
<path d="M903.3 2039.01 V2064.85 M903.3 2102 V2110.48 M891.3 2039.01 H915.3 M891.3 2110.48 H915.3" fill="none" stroke="#0a1024" stroke-width="2.1"/>
<rect x="879.5" y="2064.85" width="47.6" height="37.15" fill="#4e79a7" stroke="#0a1024" stroke-width="2.1"/>
<line x1="879.5" y1="2086.66" x2="927.1" y2="2086.66" stroke="#0a1024" stroke-width="2.1"/>
<path d="M964.5 2148.84 V2151.47 M952.5 2148.84 H976.5" fill="none" stroke="#0a1024" stroke-width="2.1"/>
<rect x="940.7" y="2151.47" width="47.6" height="2.62" fill="#a0cbe8" stroke="#0a1024" stroke-width="2.1"/>
<line x1="940.7" y1="2153.08" x2="988.3" y2="2153.08" stroke="#0a1024" stroke-width="2.1"/>
<path d="M1038 1982.07 V2027.3 M1038 2100.79 V2114.12 M1026 1982.07 H1050 M1026 2114.12 H1050" fill="none" stroke="#0a1024" stroke-width="2.1"/>
<rect x="1014.2" y="2027.3" width="47.6" height="73.49" fill="#4e79a7" stroke="#0a1024" stroke-width="2.1"/>
<line x1="1014.2" y1="2073.74" x2="1061.8" y2="2073.74" stroke="#0a1024" stroke-width="2.1"/>
<path d="M1099.3 2062.83 V2123 M1087.3 2062.83 H1111.3" fill="none" stroke="#0a1024" stroke-width="2.1"/>
<rect x="1075.5" y="2123" width="47.6" height="30.69" fill="#a0cbe8" stroke="#0a1024" stroke-width="2.1"/>
<line x1="1075.5" y1="2149.25" x2="1123.1" y2="2149.25" stroke="#0a1024" stroke-width="2.1"/>
<rect x="1130.4" y="2029.6" width="19.6" height="19.2" fill="#4e79a7" stroke="#2f4058" stroke-width="1.5"/>
<text x="1156.8" y="2048.8" font-size="27.2" letter-spacing="0.57">Mutant alleles (on-targets)</text>
<rect x="1130.4" y="2060.2" width="19.6" height="19.2" fill="#a0cbe8" stroke="#2f4058" stroke-width="1.5"/>
<text x="1156.8" y="2079.6" font-size="27.2" letter-spacing="0.57">Wild-type alleles (off-targets)</text>
</g>
<g id="panel-e">
<text x="-1" y="2214.2" font-size="37.2" font-weight="bold">e</text>
<text x="258.9" y="2259.7" font-size="32.5" text-anchor="middle" letter-spacing="0.4">Targeting dominant SNVs</text>
<text x="258.9" y="2291.8" font-size="32.5" text-anchor="middle" letter-spacing="0.4">using efSaCas9</text>
<text x="258.9" y="2323.9" font-size="32.5" text-anchor="middle" letter-spacing="0.4">with DeepSmallCas9</text>
<text x="1554.2" y="2259.7" font-size="32.5" text-anchor="middle" letter-spacing="0.4">Targeting dominant SNVs</text>
<text x="1554.2" y="2291.8" font-size="32.5" text-anchor="middle" letter-spacing="0.4">using efSaCas9</text>
<text x="1554.2" y="2323.9" font-size="32.5" text-anchor="middle" letter-spacing="0.4">without DeepSmallCas9</text>
<rect x="37" y="2345.9" width="19.6" height="19.6" fill="#499d96"/>
<text x="63.5" y="2366.1" font-size="27.2" letter-spacing="0.57">efSaCas9 (2,875, 22%)</text>
<rect x="37" y="2376.75" width="19.6" height="19.6" fill="#d4d4d4"/>
<text x="63.5" y="2396.95" font-size="27.2" letter-spacing="0.57">Inefficient or nonspecific (9,246, 70%)</text>
<rect x="37" y="2407.6" width="19.6" height="19.6" fill="#7f7f7f"/>
<text x="63.5" y="2427.8" font-size="27.2" letter-spacing="0.57">Untargetable (1,024, 7.8%)</text>
<rect x="1332" y="2345.9" width="19.6" height="19.6" fill="#499d96"/>
<text x="1358.5" y="2366.1" font-size="27.2" letter-spacing="0.57">efSaCas9 (1,727, 13%)</text>
<rect x="1332" y="2376.75" width="19.6" height="19.6" fill="#d4d4d4"/>
<text x="1358.5" y="2396.95" font-size="27.2" letter-spacing="0.57">Inefficient or nonspecific (10,394, 79%)</text>
<rect x="1332" y="2407.6" width="19.6" height="19.6" fill="#7f7f7f"/>
<text x="1358.5" y="2427.8" font-size="27.2" letter-spacing="0.57">Untargetable (1,024, 7.8%)</text>
<circle cx="669" cy="2340.4" r="100" fill="#d4d4d4"/>
<path d="M669 2340.4 L622.05 2252.11 A100 100 0 0 1 669 2240.4 Z" fill="#8a8a8a"/>
<path d="M669.5 2339.1 L669.5 2236.5 A102.6 102.6 0 0 1 770.11 2319 Z" fill="#499d96"/>
<path d="M669.5 2339.1 L669.5 2236.5" fill="none" stroke="#000" stroke-width="5.4" stroke-dasharray="18.06 3.07"/>
<path d="M669.5 2236.5 A102.6 102.6 0 0 1 770.11 2319" fill="none" stroke="#000" stroke-width="5.4" stroke-dasharray="15.55 5.35"/>
<path d="M770.11 2319 L669.5 2339.1" fill="none" stroke="#000" stroke-width="5.4" stroke-dasharray="16.61 4.89"/>
<path d="M669.5 2335.1 L669.5 2339.1 L673.42 2338.32" fill="none" stroke="#000" stroke-width="5.4" stroke-linejoin="miter" stroke-miterlimit="6"/>
<path d="M669.5 2240.5 L669.5 2236.5 L673.5 2236.58" fill="none" stroke="#000" stroke-width="5.4" stroke-linejoin="miter" stroke-miterlimit="6"/>
<path d="M769.25 2315.09 L770.11 2319 L766.19 2319.78" fill="none" stroke="#000" stroke-width="5.4" stroke-linejoin="miter" stroke-miterlimit="6"/>
<line x1="802.2" y1="2258.9" x2="733.49" y2="2258.9" stroke="#000" stroke-width="5.4" stroke-dasharray="18.77 6.2"/>
<line x1="799.5" y1="2256.2" x2="799.5" y2="2445.1" stroke="#000" stroke-width="5.4" stroke-dasharray="15.54 6.14"/>
<path d="M791.6 2444.1 L807.4 2444.1 L799.5 2458.6 Z" fill="#000"/>
<circle cx="1193.6" cy="2340.4" r="100" fill="#d4d4d4"/>
<path d="M1193.6 2340.4 L1146.65 2252.11 A100 100 0 0 1 1193.6 2240.4 Z" fill="#8a8a8a"/>
<line x1="1064.85" y1="2317" x2="1190.8" y2="2317" stroke="#a9a9a9" stroke-width="5.3" stroke-dasharray="15.83 6.2"/>
<line x1="1067.5" y1="2314.35" x2="1067.5" y2="2445.1" stroke="#a9a9a9" stroke-width="5.3" stroke-dasharray="16.62 6.2"/>
<path d="M1059.6 2444.1 L1075.4 2444.1 L1067.5 2458.6 Z" fill="#a9a9a9"/>
<path d="M1193.3 2339.1 L1193.3 2241.7 A97.4 97.4 0 0 1 1264.88 2273.05 Z" fill="#499d96"/>
<path d="M1193.3 2339.1 L1193.3 2241.7" fill="none" stroke="#000" stroke-width="5.4"/>
<path d="M1193.3 2241.7 A97.4 97.4 0 0 1 1264.88 2273.05" fill="none" stroke="#000" stroke-width="5.4" stroke-dasharray="15.98 5.49"/>
<path d="M1264.88 2273.05 L1193.3 2339.1" fill="none" stroke="#000" stroke-width="5.4" stroke-dasharray="15.77 4.64"/>
<path d="M1193.3 2245.7 L1193.3 2241.7 L1197.3 2241.78" fill="none" stroke="#000" stroke-width="5.4" stroke-linejoin="miter" stroke-miterlimit="6"/>
<path d="M1262.11 2270.16 L1264.88 2273.05 L1261.94 2275.76" fill="none" stroke="#000" stroke-width="5.4" stroke-linejoin="miter" stroke-miterlimit="6"/>
<path d="M1193.3 2339.1 L1193.3 2236.7" fill="none" stroke="#a9a9a9" stroke-width="5.3" stroke-dasharray="16.2 4.2 17.8 4.2 17.9 4.2 18 4.2 30"/>
<path d="M1193.3 2236.7 A102.4 102.4 0 0 1 1293.71 2319.04" fill="none" stroke="#a9a9a9" stroke-width="5.3" stroke-dasharray="15.52 5.34"/>
<path d="M1293.71 2319.04 L1193.3 2339.1" fill="none" stroke="#a9a9a9" stroke-width="5.3" stroke-dasharray="16.58 4.88"/>
<path d="M1193.3 2335.1 L1193.3 2339.1 L1197.22 2338.32" fill="none" stroke="#a9a9a9" stroke-width="5.3" stroke-linejoin="miter" stroke-miterlimit="6"/>
<path d="M1193.3 2240.7 L1193.3 2236.7 L1197.3 2236.78" fill="none" stroke="#a9a9a9" stroke-width="5.3" stroke-linejoin="miter" stroke-miterlimit="6"/>
<path d="M1292.85 2315.13 L1293.71 2319.04 L1289.79 2319.82" fill="none" stroke="#a9a9a9" stroke-width="5.3" stroke-linejoin="miter" stroke-miterlimit="6"/>
<path d="M1193.08 2339.3 L1204.32 2328.93" fill="none" stroke="#000" stroke-width="5.4"/>
<line x1="931.9" y1="2282.1" x2="1190.8" y2="2282.1" stroke="#000" stroke-width="5.4" stroke-dasharray="15.89 6.2"/>
<line x1="934.6" y1="2279.4" x2="934.6" y2="2445.1" stroke="#000" stroke-width="5.4" stroke-dasharray="15.39 6.08"/>
<path d="M926.7 2444.1 L942.5 2444.1 L934.6 2458.6 Z" fill="#000"/>
<text transform="translate(834.2 2443.7) rotate(-90)" font-size="25.4" letter-spacing="1.46"><tspan font-style="italic">n</tspan> =2,875</text>
<text transform="translate(969.2 2443.7) rotate(-90)" font-size="25.4" letter-spacing="1.46"><tspan font-style="italic">n</tspan> = 1,727</text>
<text transform="translate(1102.2 2443.7) rotate(-90)" font-size="25.4" letter-spacing="1.46"><tspan font-style="italic">n</tspan> = 2,875</text>
<path d="M732.5 2500.45 V2703.4 H1136.3" fill="none" stroke="#000" stroke-width="2.1"/>
<line x1="725.5" y1="2703.4" x2="732.5" y2="2703.4" stroke="#000" stroke-width="2.1"/>
<text x="719.3" y="2715" font-size="32.3" text-anchor="end">0</text>
<line x1="725.5" y1="2663.02" x2="732.5" y2="2663.02" stroke="#000" stroke-width="2.1"/>
<text x="719.3" y="2674.62" font-size="32.3" text-anchor="end">10</text>
<line x1="725.5" y1="2622.64" x2="732.5" y2="2622.64" stroke="#000" stroke-width="2.1"/>
<text x="719.3" y="2634.24" font-size="32.3" text-anchor="end">20</text>
<line x1="725.5" y1="2582.26" x2="732.5" y2="2582.26" stroke="#000" stroke-width="2.1"/>
<text x="719.3" y="2593.86" font-size="32.3" text-anchor="end">30</text>
<line x1="725.5" y1="2541.88" x2="732.5" y2="2541.88" stroke="#000" stroke-width="2.1"/>
<text x="719.3" y="2553.48" font-size="32.3" text-anchor="end">40</text>
<line x1="725.5" y1="2501.5" x2="732.5" y2="2501.5" stroke="#000" stroke-width="2.1"/>
<text x="719.3" y="2513.1" font-size="32.3" text-anchor="end">50</text>
<text transform="translate(631.5 2607.9) rotate(-90)" font-size="32" text-anchor="middle" letter-spacing="0.8">Predicted</text>
<text transform="translate(664.4 2602.9) rotate(-90)" font-size="32" text-anchor="middle" letter-spacing="0.6">activity (%)</text>
<line x1="866.8" y1="2500.5" x2="866.8" y2="2703.4" stroke="#000" stroke-width="1.9" stroke-dasharray="4.5 3.8"/>
<line x1="1001.4" y1="2500.5" x2="1001.4" y2="2703.4" stroke="#000" stroke-width="1.9" stroke-dasharray="4.5 3.8"/>
<text x="800.7" y="2490.1" font-size="25.5" text-anchor="middle" letter-spacing="1.8">44x</text>
<line x1="769.4" y1="2500.4" x2="830.2" y2="2500.4" stroke="#000" stroke-width="2.1"/>
<text x="935.4" y="2490.1" font-size="25.5" text-anchor="middle" letter-spacing="1.8">43x</text>
<line x1="904.1" y1="2500.4" x2="964.9" y2="2500.4" stroke="#000" stroke-width="2.1"/>
<text x="1067.9" y="2490.1" font-size="25.5" text-anchor="middle" letter-spacing="1.8">4.8x</text>
<line x1="1036.6" y1="2500.4" x2="1097.4" y2="2500.4" stroke="#000" stroke-width="2.1"/>
<path d="M768.6 2585.09 V2610.28 M768.6 2648.6 V2656.96 M756.6 2585.09 H780.6 M756.6 2656.96 H780.6" fill="none" stroke="#0a1024" stroke-width="2.1"/>
<rect x="744.8" y="2610.28" width="47.6" height="38.32" fill="#4e79a7" stroke="#0a1024" stroke-width="2.1"/>
<line x1="744.8" y1="2632.74" x2="792.4" y2="2632.74" stroke="#0a1024" stroke-width="2.1"/>
<path d="M830 2697.54 V2701.54 M818 2697.54 H842" fill="none" stroke="#0a1024" stroke-width="2.1"/>
<rect x="806.2" y="2701.54" width="47.6" height="1.45" fill="#a0cbe8" stroke="#0a1024" stroke-width="2.1"/>
<line x1="806.2" y1="2702.19" x2="853.8" y2="2702.19" stroke="#0a1024" stroke-width="2.1"/>
<path d="M903.3 2587.91 V2614.97 M903.3 2650.91 V2657.37 M891.3 2587.91 H915.3 M891.3 2657.37 H915.3" fill="none" stroke="#0a1024" stroke-width="2.1"/>
<rect x="879.5" y="2614.97" width="47.6" height="35.94" fill="#4e79a7" stroke="#0a1024" stroke-width="2.1"/>
<line x1="879.5" y1="2635.97" x2="927.1" y2="2635.97" stroke="#0a1024" stroke-width="2.1"/>
<path d="M964.5 2697.54 V2701.54 M952.5 2697.54 H976.5" fill="none" stroke="#0a1024" stroke-width="2.1"/>
<rect x="940.7" y="2701.54" width="47.6" height="1.45" fill="#a0cbe8" stroke="#0a1024" stroke-width="2.1"/>
<line x1="940.7" y1="2702.19" x2="988.3" y2="2702.19" stroke="#0a1024" stroke-width="2.1"/>
<path d="M1038 2543.9 V2589.93 M1038 2650.91 V2662.62 M1026 2543.9 H1050 M1026 2662.62 H1050" fill="none" stroke="#0a1024" stroke-width="2.1"/>
<rect x="1014.2" y="2589.93" width="47.6" height="60.97" fill="#4e79a7" stroke="#0a1024" stroke-width="2.1"/>
<line x1="1014.2" y1="2628.29" x2="1061.8" y2="2628.29" stroke="#0a1024" stroke-width="2.1"/>
<path d="M1099.3 2640.81 V2684.83 M1087.3 2640.81 H1111.3" fill="none" stroke="#0a1024" stroke-width="2.1"/>
<rect x="1075.5" y="2684.83" width="47.6" height="17.97" fill="#a0cbe8" stroke="#0a1024" stroke-width="2.1"/>
<line x1="1075.5" y1="2701.38" x2="1123.1" y2="2701.38" stroke="#0a1024" stroke-width="2.1"/>
<rect x="1130.4" y="2578.1" width="19.6" height="19.2" fill="#4e79a7" stroke="#2f4058" stroke-width="1.5"/>
<text x="1156.8" y="2597.3" font-size="27.2" letter-spacing="0.57">Mutant alleles (on-targets)</text>
<rect x="1130.4" y="2608.7" width="19.6" height="19.2" fill="#a0cbe8" stroke="#2f4058" stroke-width="1.5"/>
<text x="1156.8" y="2628.1" font-size="27.2" letter-spacing="0.57">Wild-type alleles (off-targets)</text>
</g>
</svg>
</body>
</html>
